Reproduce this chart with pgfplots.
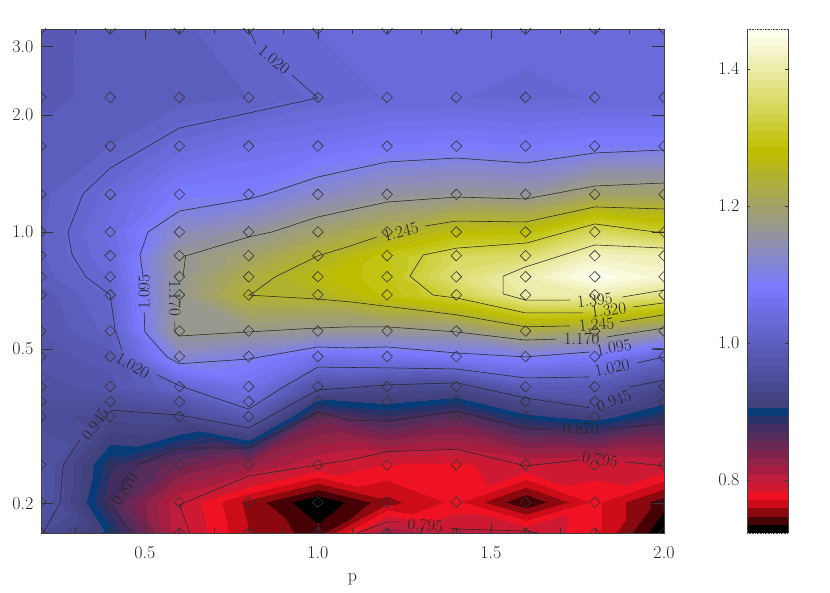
\documentclass[border=0pt]{standalone}
\usepackage{fontspec}
\usepackage{pgfplots}
\usepackage{pgfplotstable}
\pgfplotsset{compat=1.18}

\pgfplotstableread{
p k z
0.2 3.33 0.99
0.4 3.33 0.995
0.6 3.33 1.0
0.8 3.33 1.02
1.0 3.33 1.03
1.2 3.33 1.035
1.4 3.33 1.04
1.6 3.33 1.035
1.8 3.33 1.04
2.0 3.33 1.04
0.2 2.22 0.99
0.4 2.22 0.995
0.6 2.22 0.998
0.8 2.22 1.005
1.0 2.22 1.02
1.2 2.22 1.03
1.4 2.22 1.03
1.6 2.22 1.025
1.8 2.22 1.03
2.0 2.22 1.03
0.2 1.664 0.995
0.4 1.664 1.005
0.6 1.664 1.035
0.8 1.664 1.055
1.0 1.664 1.065
1.2 1.664 1.08
1.4 1.664 1.085
1.6 1.664 1.08
1.8 1.664 1.09
2.0 1.664 1.09
0.2 1.25 1.0
0.4 1.25 1.035
0.6 1.25 1.085
0.8 1.25 1.09
1.0 1.25 1.127
1.2 1.25 1.155
1.4 1.25 1.165
1.6 1.25 1.16
1.8 1.25 1.20
2.0 1.25 1.20
0.2 1.0 1.003
0.4 1.0 1.047
0.6 1.0 1.133
0.8 1.0 1.16
1.0 1.0 1.20
1.2 1.0 1.235
1.4 1.0 1.275
1.6 1.0 1.28
1.8 1.0 1.35
2.0 1.0 1.32
0.2 0.869 1.003
0.4 0.869 1.04
0.6 0.869 1.167
0.8 0.869 1.20
1.0 0.869 1.245
1.2 0.869 1.296
1.4 0.869 1.345
1.6 0.869 1.36
1.8 0.869 1.42
2.0 0.869 1.41
0.2 0.767 0.998
0.4 0.767 1.031
0.6 0.767 1.167
0.8 0.767 1.23
1.0 0.767 1.27
1.2 0.767 1.297
1.4 0.767 1.367
1.6 0.767 1.41
1.8 0.767 1.455
2.0 0.767 1.43
0.2 0.689 0.985
0.4 0.689 1.02
0.6 0.689 1.17
0.8 0.689 1.245
1.0 0.689 1.25
1.2 0.689 1.29
1.4 0.689 1.33
1.6 0.689 1.40
1.8 0.689 1.405
2.0 0.689 1.37
0.2 0.556 0.98
0.4 0.556 1.01
0.6 0.556 1.175
0.8 0.556 1.17
1.0 0.556 1.165
1.2 0.556 1.165
1.4 0.556 1.17
1.6 0.556 1.22
1.8 0.556 1.20
2.0 0.556 1.165
0.2 0.478 0.975
0.4 0.478 0.985
0.6 0.478 1.121
0.8 0.478 1.10
1.0 0.478 1.058
1.2 0.478 1.065
1.4 0.478 1.078
1.6 0.478 1.095
1.8 0.478 1.078
2.0 0.478 1.02
0.2 0.40 0.96
0.4 0.40 0.975
0.6 0.40 1.02
0.8 0.40 1.055
1.0 0.40 0.96
1.2 0.40 0.94
1.4 0.40 0.935
1.6 0.40 0.99
1.8 0.40 0.985
2.0 0.40 0.93
0.2 0.366 0.955
0.4 0.366 0.955
0.6 0.366 0.975
0.8 0.366 1.03
1.0 0.366 0.90
1.2 0.366 0.91
1.4 0.366 0.895
1.6 0.366 0.935
1.8 0.366 0.96
2.0 0.366 0.91
0.2 0.335 0.95
0.4 0.335 0.935
0.6 0.335 0.94
0.8 0.335 0.985
1.0 0.335 0.855
1.2 0.335 0.88
1.4 0.335 0.86
1.6 0.335 0.90
1.8 0.335 0.915
2.0 0.335 0.883
0.2 0.2515 0.97
0.4 0.2515 0.885
0.6 0.2515 0.848
0.8 0.2515 0.824
1.0 0.2515 0.795
1.2 0.2515 0.783
1.4 0.2515 0.78
1.6 0.2515 0.795
1.8 0.2515 0.79
2.0 0.2515 0.795
0.2 0.2016 0.972
0.4 0.2016 0.872
0.6 0.2016 0.797
0.8 0.2016 0.755
1.0 0.2016 0.722
1.2 0.2016 0.755
1.4 0.2016 0.775
1.6 0.2016 0.735
1.8 0.2016 0.775
2.0 0.2016 0.74
0.2 0.168 0.945
0.4 0.168 0.90
0.6 0.168 0.80
0.8 0.168 0.76
1.0 0.168 0.74
1.2 0.168 0.82
1.4 0.168 0.80
1.6 0.168 0.797
1.8 0.168 0.775
2.0 0.168 0.72
}\gridtable

\pgfplotsset{
  colormap={bands}{
    rgb255=(0,0,0) rgb255=(70,0,5) rgb255=(140,8,15) rgb255=(205,12,25) rgb255=(238,18,35)
    rgb255=(205,25,50) rgb255=(190,30,60) rgb255=(165,30,65) rgb255=(145,35,70) rgb255=(125,35,75)
    rgb255=(105,40,85) rgb255=(85,45,90) rgb255=(65,45,95) rgb255=(40,50,105) rgb255=(8,60,120)
    rgb255=(65,65,125) rgb255=(69,69,134) rgb255=(73,73,144) rgb255=(77,77,153) rgb255=(81,81,162)
    rgb255=(85,85,171) rgb255=(89,89,181) rgb255=(93,93,190) rgb255=(98,98,199) rgb255=(102,102,209)
    rgb255=(106,106,218) rgb255=(110,110,227) rgb255=(114,114,236) rgb255=(118,118,246) rgb255=(122,122,255)
    rgb255=(126,126,239) rgb255=(130,130,223) rgb255=(135,135,207) rgb255=(139,139,191) rgb255=(143,143,175)
    rgb255=(147,147,159) rgb255=(152,152,143) rgb255=(156,156,128) rgb255=(160,160,112) rgb255=(164,164,96)
    rgb255=(169,169,80) rgb255=(173,173,64) rgb255=(177,177,48) rgb255=(181,181,32) rgb255=(186,186,16)
    rgb255=(190,190,0) rgb255=(195,195,17) rgb255=(199,199,34) rgb255=(204,204,51) rgb255=(209,209,69)
    rgb255=(213,213,86) rgb255=(218,218,103) rgb255=(223,223,120) rgb255=(227,227,137) rgb255=(232,232,154)
    rgb255=(237,237,171) rgb255=(241,241,189) rgb255=(246,246,206) rgb255=(250,250,223) rgb255=(255,255,240)
  },
  colormap access=piecewise constant,
  point meta min=0.7226, point meta max=1.4583,
  every axis/.append style={scale only axis, anchor=south west, clip=true},
  contourline/.style={black!85, line width=0.55pt, forget plot},
}
\newcommand{\lab}{\fontsize{18}{20}\selectfont}
\newcommand{\clab}[4]{\node[font=\fontsize{17}{19}\selectfont, text=black!85, inner sep=0pt, rotate=#3] at (axis cs:#1,#2) {#4};}

\begin{document}
\begin{tikzpicture}[x=1pt, y=1pt]
\path[use as bounding box] (0,0) rectangle (830,593);

% filled field: triangles over the grid points (row numbers of \gridtable)
\begin{axis}[at={(41pt,60pt)}, width=623pt, height=504pt, hide axis, view={0}{90},
    xmin=0.2, xmax=2.0, ymode=log, ymin=0.168, ymax=3.33]
\addplot3[patch, shader=interp, table/row sep=\\, point meta=z, patch table={
0 1 11\\ 0 11 10\\ 1 2 12\\ 1 12 11\\ 2 3 13\\ 2 13 12\\ 3 4 14\\ 3 14 13\\ 4 5 15\\ 4 15 14\\ 5 6 16\\ 5 16 15\\ 6 7 16\\ 7 17 16\\ 7 8 18\\ 7 18 17\\ 8 9 19\\ 8 19 18\\
10 11 20\\ 11 21 20\\ 11 12 21\\ 12 22 21\\ 12 13 22\\ 13 23 22\\ 13 14 23\\ 14 24 23\\ 14 15 24\\ 15 25 24\\ 15 16 25\\ 16 26 25\\ 16 17 27\\ 16 27 26\\ 17 18 27\\ 18 28 27\\ 18 19 29\\ 18 29 28\\
20 21 30\\ 21 31 30\\ 21 22 31\\ 22 32 31\\ 22 23 32\\ 23 33 32\\ 23 24 33\\ 24 34 33\\ 24 25 34\\ 25 35 34\\ 25 26 35\\ 26 36 35\\ 26 27 37\\ 26 37 36\\ 27 28 37\\ 28 38 37\\ 28 29 39\\ 28 39 38\\
30 31 40\\ 31 41 40\\ 31 32 41\\ 32 42 41\\ 32 33 42\\ 33 43 42\\ 33 34 43\\ 34 44 43\\ 34 35 44\\ 35 45 44\\ 35 36 45\\ 36 46 45\\ 36 37 47\\ 36 47 46\\ 37 38 47\\ 38 48 47\\ 38 39 49\\ 38 49 48\\
40 41 51\\ 40 51 50\\ 41 42 51\\ 42 52 51\\ 42 43 52\\ 43 53 52\\ 43 44 53\\ 44 54 53\\ 44 45 54\\ 45 55 54\\ 45 46 55\\ 46 56 55\\ 46 47 56\\ 47 57 56\\ 47 48 57\\ 48 58 57\\ 48 49 59\\ 48 59 58\\
50 51 61\\ 50 61 60\\ 51 52 62\\ 51 62 61\\ 52 53 62\\ 53 63 62\\ 53 54 63\\ 54 64 63\\ 54 55 64\\ 55 65 64\\ 55 56 65\\ 56 66 65\\ 56 57 66\\ 57 67 66\\ 57 58 67\\ 58 68 67\\ 58 59 69\\ 58 69 68\\
60 61 71\\ 60 71 70\\ 61 62 72\\ 61 72 71\\ 62 63 72\\ 63 73 72\\ 63 64 74\\ 63 74 73\\ 64 65 75\\ 64 75 74\\ 65 66 76\\ 65 76 75\\ 66 67 77\\ 66 77 76\\ 67 68 78\\ 67 78 77\\ 68 69 78\\ 69 79 78\\
70 71 81\\ 70 81 80\\ 71 72 82\\ 71 82 81\\ 72 73 83\\ 72 83 82\\ 73 74 84\\ 73 84 83\\ 74 75 85\\ 74 85 84\\ 75 76 86\\ 75 86 85\\ 76 77 87\\ 76 87 86\\ 77 78 87\\ 78 88 87\\ 78 79 88\\ 79 89 88\\
80 81 91\\ 80 91 90\\ 81 82 92\\ 81 92 91\\ 82 83 92\\ 83 93 92\\ 83 84 93\\ 84 94 93\\ 84 85 95\\ 84 95 94\\ 85 86 96\\ 85 96 95\\ 86 87 97\\ 86 97 96\\ 87 88 97\\ 88 98 97\\ 88 89 98\\ 89 99 98\\
90 91 101\\ 90 101 100\\ 91 92 102\\ 91 102 101\\ 92 93 103\\ 92 103 102\\ 93 94 103\\ 94 104 103\\ 94 95 104\\ 95 105 104\\ 95 96 106\\ 95 106 105\\ 96 97 107\\ 96 107 106\\ 97 98 107\\ 98 108 107\\ 98 99 108\\ 99 109 108\\
100 101 111\\ 100 111 110\\ 101 102 112\\ 101 112 111\\ 102 103 113\\ 102 113 112\\ 103 104 113\\ 104 114 113\\ 104 105 114\\ 105 115 114\\ 105 106 115\\ 106 116 115\\ 106 107 117\\ 106 117 116\\ 107 108 118\\ 107 118 117\\ 108 109 118\\ 109 119 118\\
110 111 120\\ 111 121 120\\ 111 112 122\\ 111 122 121\\ 112 113 123\\ 112 123 122\\ 113 114 123\\ 114 124 123\\ 114 115 125\\ 114 125 124\\ 115 116 125\\ 116 126 125\\ 116 117 127\\ 116 127 126\\ 117 118 128\\ 117 128 127\\ 118 119 128\\ 119 129 128\\
120 121 130\\ 121 131 130\\ 121 122 131\\ 122 132 131\\ 122 123 133\\ 122 133 132\\ 123 124 133\\ 124 134 133\\ 124 125 135\\ 124 135 134\\ 125 126 135\\ 126 136 135\\ 126 127 137\\ 126 137 136\\ 127 128 138\\ 127 138 137\\ 128 129 138\\ 129 139 138\\
130 131 140\\ 131 141 140\\ 131 132 141\\ 132 142 141\\ 132 133 142\\ 133 143 142\\ 133 134 143\\ 134 144 143\\ 134 135 145\\ 134 145 144\\ 135 136 146\\ 135 146 145\\ 136 137 146\\ 137 147 146\\ 137 138 148\\ 137 148 147\\ 138 139 148\\ 139 149 148\\
140 141 151\\ 140 151 150\\ 141 142 152\\ 141 152 151\\ 142 143 153\\ 142 153 152\\ 143 144 154\\ 143 154 153\\ 144 145 154\\ 145 155 154\\ 145 146 156\\ 145 156 155\\ 146 147 157\\ 146 157 156\\ 147 148 157\\ 148 158 157\\ 148 149 158\\ 149 159 158\\
}] table[x=p, y=k, z=z]{\gridtable};
\end{axis}

% contours, grid points and frame
\begin{axis}[at={(41pt,60pt)}, width=623pt, height=504pt,
    xmin=0.2, xmax=2.0, ymode=log, ymin=0.168, ymax=3.33,
    clip marker paths=true,
    axis line style={black!75, line width=0.6pt},
    tick align=inside, tick style={black!80, line width=0.5pt},
    xtick={0.5,1.0,1.5,2.0}, xticklabels={0.5,1.0,1.5,2.0},
    minor xtick={0.3,0.4,0.6,0.7,0.8,0.9,1.1,1.2,1.3,1.4,1.6,1.7,1.8,1.9},
    ytick={0.2,0.5,1,2,3}, yticklabels={0.2,0.5,1.0,2.0,3.0},
    yminorticks=false, log ticks with fixed point,
    xtick style={/pgfplots/major tick length=10pt, /pgfplots/minor tick length=5pt},
    ytick style={/pgfplots/major tick length=12pt},
    tick label style={font=\lab, text=black!85},
    xticklabel style={yshift=-10pt}, yticklabel style={xshift=-4pt},
    xlabel={p}, xlabel style={font=\lab, text=black!85, at={(axis description cs:0.5,0)}, anchor=center, yshift=-46pt}]
\addplot[only marks, mark=square, mark size=3.75pt, mark options={rotate=45, draw=black!80, line width=0.6pt, fill=none}] table[x=p, y=k]{\gridtable};

% 1.020
\addplot[contourline] coordinates {(0.80,3.33)(0.821,3.045)};
\addplot[contourline] coordinates {(0.925,2.535)(1.0,2.212)(0.6,1.852)(0.4,1.461)(0.321,1.252)(0.278,1.0)(0.29,0.873)(0.33,0.766)(0.4,0.688)(0.402,0.668)(0.414,0.56)(0.434,0.497)};
\addplot[contourline] coordinates {(0.535,0.429)(0.6,0.402)(0.8,0.35)(0.9,0.399)(1.0,0.449)(1.2,0.447)(1.4,0.444)(1.6,0.421)(1.786,0.4236)};
\addplot[contourline] coordinates {(1.922,0.46)(2.0,0.477)};
% 1.095
\addplot[contourline] coordinates {(2.0,1.626)(1.8,1.597)(1.6,1.505)(1.4,1.55)(1.2,1.514)(1.093,1.444)(1.0,1.385)(0.853,1.252)(0.8,1.216)(0.6,1.132)(0.509,1.0)(0.486,0.873)(0.495,0.766)};
\addplot[contourline] coordinates {(0.498,0.623)(0.5,0.553)(0.564,0.477)(0.6,0.458)(0.8,0.471)(1.0,0.506)(1.093,0.503)(1.2,0.506)(1.402,0.488)(1.6,0.477)(1.786,0.491)};
\addplot[contourline] coordinates {(1.965,0.503)(2.0,0.5)};
% 1.170
\addplot[contourline] coordinates {(2.0,1.337)(1.8,1.313)(1.6,1.216)(1.4,1.23)(1.2,1.194)(1.093,1.139)(1.0,1.093)(0.867,1.0)(0.8,0.971)(0.618,0.868)(0.61,0.766)};
\addplot[contourline] coordinates {(0.587,0.587)(0.587,0.553)(0.6,0.54)(0.8,0.553)(1.0,0.566)(1.093,0.57)(1.2,0.57)(1.4,0.553)(1.6,0.527)(1.69,0.53)};
\addplot[contourline] coordinates {(1.835,0.537)(2.0,0.566)};
% 1.245
\addplot[contourline] coordinates {(2.0,1.146)(1.8,1.16)(1.6,1.061)(1.4,1.067)(1.31,1.036)};
\addplot[contourline] coordinates {(1.171,0.971)(1.093,0.92)(1.0,0.868)(0.876,0.766)(0.813,0.697)(0.8,0.688)(1.0,0.672)(1.093,0.661)(1.402,0.612)(1.6,0.57)(1.728,0.573)};
\addplot[contourline] coordinates {(1.873,0.587)(2.0,0.612)};
% 1.320
\addplot[contourline] coordinates {(2.0,1.0)(1.974,1.0)(1.8,1.049)(1.604,0.937)(1.402,0.909)(1.304,0.873)(1.266,0.77)(1.333,0.688)(1.402,0.676)(1.6,0.619)(1.766,0.619)};
\addplot[contourline] coordinates {(1.91,0.641)(2.0,0.657)};
% 1.395
\addplot[contourline] coordinates {(2.0,0.909)(1.8,0.926)(1.6,0.813)(1.535,0.77)(1.535,0.693)(1.6,0.668)(1.728,0.668)};
\addplot[contourline] coordinates {(1.879,0.68)(2.0,0.709)};
% 0.945
\addplot[contourline] coordinates {(0.206,0.168)(0.255,0.2008)(0.264,0.2515)(0.313,0.292)};
\addplot[contourline] coordinates {(0.4,0.348)(0.6,0.338)(0.8,0.313)(1.0,0.392)(1.093,0.397)(1.2,0.404)(1.402,0.409)(1.6,0.374)(1.786,0.353)};
\addplot[contourline] coordinates {(1.9,0.399)(2.0,0.416)};
% 0.870
\addplot[contourline] coordinates {(0.463,0.168)(0.408,0.1926)};
\addplot[contourline] coordinates {(0.477,0.2515)(0.6,0.278)(0.8,0.278)(1.0,0.344)(1.093,0.328)(1.2,0.326)(1.402,0.346)(1.6,0.313)(1.685,0.311)};
\addplot[contourline] coordinates {(1.835,0.311)(2.0,0.321)};
% 0.795
\addplot[contourline] coordinates {(0.63,0.168)(0.6,0.1985)(0.8,0.2356)(1.0,0.2515)(1.093,0.259)(1.2,0.272)(1.402,0.276)(1.6,0.25)(1.757,0.259)};
\addplot[contourline] coordinates {(1.887,0.256)(2.0,0.25)};
\addplot[contourline] coordinates {(1.113,0.168)(1.2,0.1794)(1.237,0.1794)};
\addplot[contourline] coordinates {(1.382,0.173)(1.402,0.172)(1.6,0.17)(1.636,0.168)};

\clab{0.873}{2.77}{-40}{1.020}
\clab{0.465}{0.452}{-30}{1.020}
\clab{1.85}{0.447}{12}{1.020}
\clab{0.498}{0.70}{90}{1.095}
\clab{1.855}{0.504}{10}{1.095}
\clab{0.587}{0.675}{-90}{1.170}
\clab{1.762}{0.531}{0}{1.170}
\clab{1.24}{1.0}{14}{1.245}
\clab{1.805}{0.578}{5}{1.245}
\clab{1.84}{0.63}{8}{1.320}
\clab{1.8}{0.668}{5}{1.395}
\clab{0.356}{0.32}{55}{0.945}
\clab{1.855}{0.368}{22}{0.945}
\clab{0.441}{0.218}{55}{0.870}
\clab{1.76}{0.311}{0}{0.870}
\clab{1.815}{0.26}{-8}{0.795}
\clab{1.31}{0.176}{-5}{0.795}
\end{axis}

% colour bar
\begin{axis}[at={(747pt,60pt)}, width=41pt, height=504pt, view={0}{90},
    xmin=0, xmax=1, ymin=0.7226, ymax=1.4583,
    axis line style={black!75, line width=0.6pt},
    separate axis lines, every outer x axis line/.append style={densely dotted},
    xtick=\empty, ytick={0.8,1.0,1.2,1.4}, yticklabels={0.8,1.0,1.2,1.4},
    tick align=inside, tick style={black!80, line width=0.5pt},
    ytick style={/pgfplots/major tick length=3pt},
    tick label style={font=\lab, text=black!85}, yticklabel style={xshift=-4pt}]
\addplot3[surf, shader=interp] coordinates {
  (0,0.7226,0.7226) (1,0.7226,0.7226)

  (0,1.4583,1.4583) (1,1.4583,1.4583)
};
\end{axis}
\end{tikzpicture}
\end{document}
